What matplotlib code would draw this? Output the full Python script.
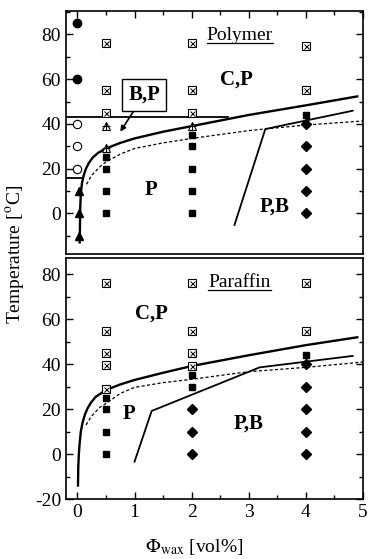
import matplotlib
matplotlib.use('Agg')
import matplotlib.pyplot as plt
from matplotlib.ticker import MultipleLocator

plt.rcParams['font.family'] = ['Liberation Serif', 'DejaVu Serif']
plt.rcParams['mathtext.fontset'] = 'stix'
plt.rcParams['axes.unicode_minus'] = False

# ---- Polymer panel data ----
poly_solid_x = [0.5, 0.5, 0.5, 0.5, 2, 2, 2, 2, 2, 4]
poly_solid_y = [25, 20, 10, 0, 35, 30, 20, 10, 0, 44]
poly_cross_x = [0.5, 0.5, 0.5, 2, 2, 2, 4, 4]
poly_cross_y = [76, 55, 45, 76, 55, 45, 75, 55]
poly_tri_open_x = [0.5, 0.5, 2]
poly_tri_open_y = [39, 29, 39]
poly_diam_x = [4, 4, 4, 4, 4]
poly_diam_y = [40, 30, 20, 10, 0]
poly_circ_fill_x = [0, 0]
poly_circ_fill_y = [85, 60]
poly_circ_open_x = [0, 0, 0]
poly_circ_open_y = [40, 30, 20]
poly_tri_fill_x = [0.02, 0.02, 0.02]
poly_tri_fill_y = [10, 0, -10]

poly_upper_x = [0.04, 0.045, 0.05, 0.06, 0.08, 0.11, 0.15, 0.2, 0.27, 0.36, 0.5,
                0.75, 1, 1.5, 2, 3, 4, 4.9]
poly_upper_y = [-13, -5, 3, 9, 13.5, 17, 20, 22.5, 25, 27, 29,
                31.5, 33.5, 36.5, 39, 44, 48.3, 52.3]
poly_dash_x = [0.16, 0.25, 0.4, 0.5, 0.75, 1, 1.5, 2, 3, 4, 5]
poly_dash_y = [13, 17, 21, 23, 26.5, 29, 31.5, 33.5, 37, 39.5, 41.3]
poly_pb_x = [2.75, 3.29, 4.82]
poly_pb_y = [-5.2, 37.7, 45.9]
poly_h1_x = [-0.2, 2.63]
poly_h1_y = [43, 43]
poly_h2_x = [-0.2, 0.07]
poly_h2_y = [16, 16]

# ---- Paraffin panel data ----
par_solid_x = [0.5, 0.5, 0.5, 0.5, 2, 2, 4]
par_solid_y = [25, 20, 10, 0, 35, 30, 44]
par_cross_x = [0.5, 0.5, 0.5, 0.5, 0.5, 2, 2, 2, 2, 4, 4]
par_cross_y = [76, 55, 45, 39.5, 29, 76, 55, 45, 39, 76, 55]
par_diam_x = [2, 2, 2, 4, 4, 4, 4, 4]
par_diam_y = [20, 10, 0, 40, 30, 20, 10, 0]

par_upper_x = [0.01, 0.015, 0.025, 0.04, 0.06, 0.09, 0.13, 0.18, 0.24, 0.32, 0.5,
               0.75, 1, 1.5, 2, 3, 4, 4.9]
par_upper_y = [-14, -6, 0, 5, 10, 14, 17.5, 20.5, 23, 25.5, 28.5,
               31, 33, 36.2, 39.2, 44, 48.5, 52]
par_dash_x = [0.15, 0.25, 0.4, 0.5, 0.75, 1, 1.5, 2, 3, 4, 5]
par_dash_y = [13, 17, 21, 22.5, 27, 29.7, 31.8, 33.3, 36.7, 38.6, 41]
par_pb_x = [1.0, 1.3, 3.19, 4.82]
par_pb_y = [-3.4, 19.2, 38.6, 43.7]

fig = plt.figure(figsize=(3.68, 5.59), dpi=100)
ax1 = fig.add_axes([0.1793, 0.5456, 0.8071, 0.4347])
ax2 = fig.add_axes([0.1793, 0.1073, 0.8071, 0.4312])


def crossed(ax, xs, ys):
    ax.plot(xs, ys, 's', ms=5.2, mfc='white', mec='black', mew=0.8, zorder=5)
    ax.plot(xs, ys, 'x', ms=3.6, mec='black', mew=0.7, zorder=6)


def style(ax, ylim, yticks, top, bottom):
    ax.set_xlim(-0.2, 5)
    ax.set_ylim(*ylim)
    ax.set_yticks(yticks)
    ax.xaxis.set_major_locator(MultipleLocator(1))
    ax.xaxis.set_minor_locator(MultipleLocator(0.5))
    ax.yaxis.set_minor_locator(MultipleLocator(10))
    ax.tick_params(which='both', direction='in', top=top, bottom=bottom,
                   left=True, right=True, labelsize=14)
    ax.tick_params(which='major', length=5, width=1)
    ax.tick_params(which='minor', length=3, width=1)
    for s in ax.spines.values():
        s.set_linewidth(1.2)


# Polymer
ax1.plot(poly_upper_x, poly_upper_y, 'k-', lw=1.7)
ax1.plot(poly_dash_x, poly_dash_y, 'k--', lw=0.9, dashes=(2.5, 1.8))
ax1.plot(poly_pb_x, poly_pb_y, 'k-', lw=1.3)
ax1.plot(poly_h1_x, poly_h1_y, 'k-', lw=1.3)
ax1.plot(poly_h2_x, poly_h2_y, 'k-', lw=1.3)
ax1.plot(poly_solid_x, poly_solid_y, 's', ms=5, color='black', zorder=5)
crossed(ax1, poly_cross_x, poly_cross_y)
ax1.plot(poly_tri_open_x, poly_tri_open_y, '^', ms=5.5, mfc='white', mec='black', mew=0.8, zorder=5)
ax1.plot(poly_tri_open_x, poly_tri_open_y, '+', ms=6, mec='black', mew=0.8, zorder=6)
ax1.plot(poly_diam_x, poly_diam_y, 'D', ms=5, color='black', zorder=5)
ax1.plot(poly_circ_fill_x, poly_circ_fill_y, 'o', ms=6, color='black', zorder=5, clip_on=False)
ax1.plot(poly_circ_open_x, poly_circ_open_y, 'o', ms=6, mfc='white', mec='black', mew=0.8, zorder=5)
ax1.plot(poly_tri_fill_x, poly_tri_fill_y, '^', ms=6, color='black', zorder=5)

ax1.text(2.78, 59.6, 'C,P', fontsize=15, fontweight='bold', ha='center', va='center')
ax1.text(1.28, 10.4, 'P', fontsize=15, fontweight='bold', ha='center', va='center')
ax1.text(3.45, 3, 'P,B', fontsize=15, fontweight='bold', ha='center', va='center')
ax1.annotate('B,P', xy=(0.75, 36.5), xytext=(1.17, 53), fontsize=15, fontweight='bold',
             ha='center', va='center',
             bbox=dict(boxstyle='square,pad=0.3', fc='white', ec='black', lw=1),
             arrowprops=dict(arrowstyle='-|>', color='black', lw=1.2, shrinkA=0, shrinkB=0,
                             mutation_scale=8))
t1 = ax1.text(2.84, 79.5, 'Polymer', fontsize=14, ha='center', va='center')
style(ax1, (-18.2, 90.5), [0, 20, 40, 60, 80], top=True, bottom=False)
ax1.tick_params(labelbottom=False)

# Paraffin
ax2.plot(par_upper_x, par_upper_y, 'k-', lw=1.7)
ax2.plot(par_dash_x, par_dash_y, 'k--', lw=0.9, dashes=(2.5, 1.8))
ax2.plot(par_pb_x, par_pb_y, 'k-', lw=1.3)
ax2.plot(par_solid_x, par_solid_y, 's', ms=5, color='black', zorder=5)
crossed(ax2, par_cross_x, par_cross_y)
ax2.plot(par_diam_x, par_diam_y, 'D', ms=5, color='black', zorder=5)

ax2.text(1.3, 62.7, 'C,P', fontsize=15, fontweight='bold', ha='center', va='center')
ax2.text(0.9, 18, 'P', fontsize=15, fontweight='bold', ha='center', va='center')
ax2.text(2.99, 13.4, 'P,B', fontsize=15, fontweight='bold', ha='center', va='center')
t2 = ax2.text(2.84, 76.5, 'Paraffin', fontsize=14, ha='center', va='center')
style(ax2, (-20, 87.3), [-20, 0, 20, 40, 60, 80], top=False, bottom=True)

# underline the panel titles
fig.canvas.draw()
r = fig.canvas.get_renderer()
for ax, t in [(ax1, t1), (ax2, t2)]:
    bb = t.get_window_extent(r).transformed(ax.transData.inverted())
    ax.plot([bb.x0, bb.x1], [bb.y0 + 0.3, bb.y0 + 0.3], 'k-', lw=0.9)

fig.text(0.041, 0.544, r'Temperature [$^{\rm o}$C]', rotation=90, fontsize=14,
         ha='center', va='center')
fig.text(0.527, 0.022, r'$\Phi_{\rm wax}$ [vol%]', fontsize=14, ha='center', va='center')

fig.savefig('out.png', dpi=100)
